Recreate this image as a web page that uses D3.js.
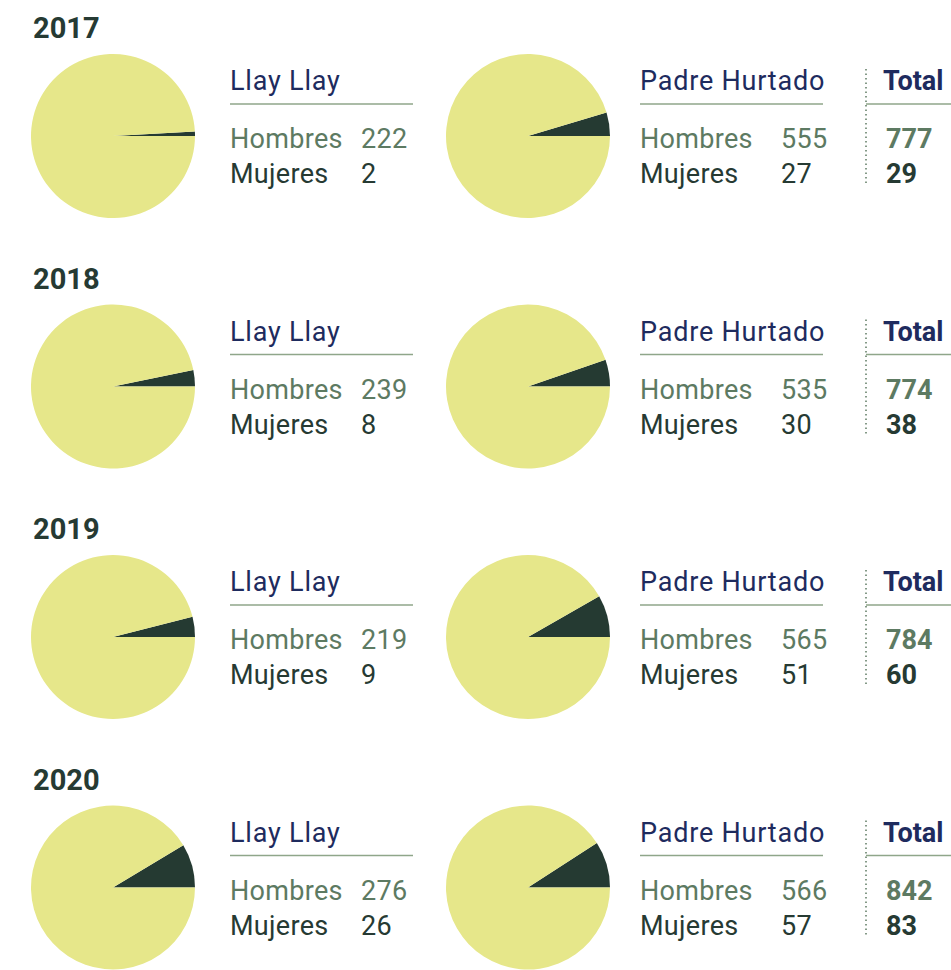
<!DOCTYPE html>
<html>
<head>
<meta charset="utf-8">
<script src="https://cdn.jsdelivr.net/npm/d3@7"></script>
<style>
  html, body { margin: 0; padding: 0; background: #fff; }
  svg { display: block; font-family: Roboto, "Noto Sans", sans-serif; }
</style>
</head>
<body>
<svg id="chart" width="951" height="970"></svg>
<script>
// data
const years = ['2017', '2018', '2019', '2020'];
const places = ['Llay Llay', 'Padre Hurtado'];
const llayHombres = [222, 239, 219, 276];
const llayMujeres = [2, 8, 9, 26];
const padreHombres = [555, 535, 565, 566];
const padreMujeres = [27, 30, 51, 57];
const rowLabels = ['Hombres', 'Mujeres'];

const colors = { hombres: '#e6e78a', mujeres: '#253a32', title: '#1e2b5e', rule: '#8fa68a', light: '#5d7a62', dark: '#263a33' };

const svg = d3.select('#chart');

// rows stacked top to bottom
const rowY = d3.scaleLinear().domain([0, 1]).range([0, 250.5]);
// column positions: pie centre, text left, number left
const cols = [
  { cx: 113, tx: 230, nx: 361, lineEnd: 413, hombres: llayHombres, mujeres: llayMujeres },
  { cx: 528, tx: 640, nx: 781, lineEnd: 823, hombres: padreHombres, mujeres: padreMujeres }
];
const radius = 82;

const pie = d3.pie().sort(null).value(d => d.value);
const arc = d3.arc().innerRadius(0).outerRadius(radius);

years.forEach((year, i) => {
  const g = svg.append('g').attr('transform', `translate(0,${rowY(i)})`);

  // year heading
  g.append('text')
    .attr('x', 33).attr('y', 38)
    .attr('font-size', 29).attr('font-weight', 700)
    .attr('fill', colors.dark)
    .text(year);

  cols.forEach((c, j) => {
    const h = c.hombres[i], m = c.mujeres[i];
    const share = m / (h + m);
    // mujeres slice ends at 3 o'clock and opens counter-clockwise
    const p = pie.startAngle(Math.PI / 2 - share * 2 * Math.PI)
      .endAngle(Math.PI / 2 + 2 * Math.PI - share * 2 * Math.PI);
    const slices = p([{ key: 'mujeres', value: m }, { key: 'hombres', value: h }]);

    g.append('g')
      .attr('transform', `translate(${c.cx},136)`)
      .selectAll('path')
      .data(slices)
      .enter()
      .append('path')
      .attr('d', arc)
      .attr('fill', d => colors[d.data.key]);

    g.append('text')
      .attr('x', c.tx).attr('y', 90)
      .attr('font-size', 27).attr('letter-spacing', 0.8)
      .attr('fill', colors.title)
      .text(places[j]);

    g.append('line')
      .attr('x1', c.tx).attr('x2', c.lineEnd)
      .attr('y1', 104).attr('y2', 104)
      .attr('stroke', colors.rule).attr('stroke-width', 1.5);

    [h, m].forEach((v, k) => {
      const fill = k === 0 ? colors.light : colors.dark;
      g.append('text')
        .attr('x', c.tx).attr('y', 148 + k * 35)
        .attr('font-size', 27).attr('letter-spacing', 0.3)
        .attr('fill', fill)
        .text(rowLabels[k]);
      g.append('text')
        .attr('x', c.nx).attr('y', 148 + k * 35)
        .attr('font-size', 27).attr('letter-spacing', 0.3)
        .attr('fill', fill)
        .text(v);
    });
  });

  // totals column
  const totH = llayHombres[i] + padreHombres[i];
  const totM = llayMujeres[i] + padreMujeres[i];

  g.append('line')
    .attr('x1', 866).attr('x2', 866)
    .attr('y1', 69).attr('y2', 183)
    .attr('stroke', colors.light).attr('stroke-width', 1.5)
    .attr('stroke-dasharray', '1.5,3');

  g.append('text')
    .attr('x', 883).attr('y', 90)
    .attr('font-size', 27).attr('font-weight', 700)
    .attr('fill', colors.title)
    .text('Total');

  g.append('line')
    .attr('x1', 866).attr('x2', 951)
    .attr('y1', 104).attr('y2', 104)
    .attr('stroke', colors.rule).attr('stroke-width', 1.5);

  [totH, totM].forEach((v, k) => {
    g.append('text')
      .attr('x', 886).attr('y', 148 + k * 35)
      .attr('font-size', 27).attr('font-weight', 700)
      .attr('fill', k === 0 ? colors.light : colors.dark)
      .text(v);
  });
});
</script>
</body>
</html>
